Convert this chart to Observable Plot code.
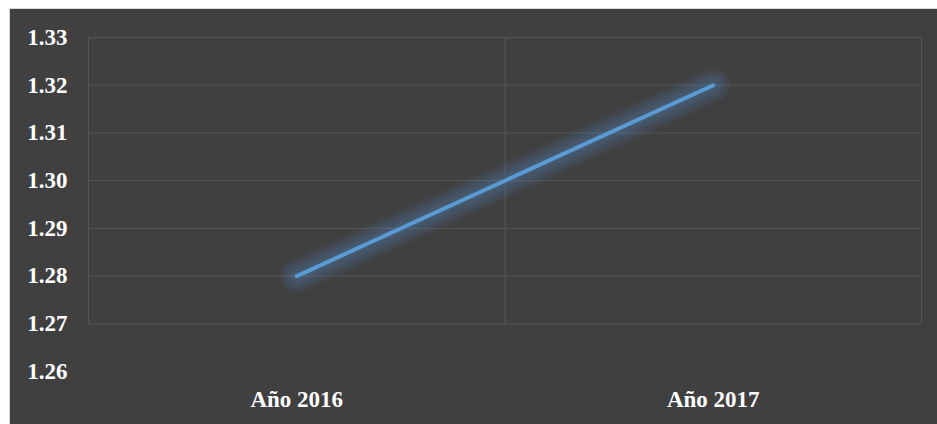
<!DOCTYPE html>
<html>
<head>
<meta charset="utf-8">
<script src="https://cdn.jsdelivr.net/npm/d3@7"></script>
<script src="https://cdn.jsdelivr.net/npm/@observablehq/plot@0.6"></script>
<style>
  html, body { margin: 0; padding: 0; background: #ffffff; }
  #frame { position: absolute; left: 9px; top: 8px; width: 928px; height: 416px; background: #404040; border-top: 1px solid #d9d9d9; border-left: 1px solid #d9d9d9; box-sizing: border-box; }
  #chart { position: absolute; left: -1px; top: -1px; }
  #chart svg text { font-family: "Liberation Serif", "Times New Roman", serif !important; font-weight: bold; font-size: 23px; }
</style>
</head>
<body>
<div id="frame"><div id="chart"></div></div>
<script>
// Categories and series values
const categories = ["Año 2016", "Año 2017"];
const values = [1.28, 1.32];
// Y axis tick labels
const yTicks = [1.26, 1.27, 1.28, 1.29, 1.30, 1.31, 1.32, 1.33];
const gridTicks = [1.27, 1.28, 1.29, 1.30, 1.31, 1.32, 1.33];

// Each category sits at the centre of its slot: 0.5, 1.5, ...
const data = categories.map((c, i) => ({ pos: i + 0.5, label: c, value: values[i] }));
const slotEdges = d3.range(categories.length + 1);

// Stacked translucent strokes, widest first, build a soft glow around the line
const glowWidths = [34, 29, 24, 19, 14, 10];

const chart = Plot.plot({
  width: 928,
  height: 416,
  marginLeft: 79,
  marginRight: 16,
  marginTop: 29,
  marginBottom: 53,
  style: {
    background: "transparent",
    color: "#ffffff",
    fontFamily: "Liberation Serif, serif",
    fontWeight: "bold",
    fontSize: "23px"
  },
  x: { domain: [0, categories.length], axis: null },
  y: { domain: [1.26, 1.33], axis: null },
  marks: [
    Plot.ruleY(gridTicks, { stroke: "#555555", strokeWidth: 1 }),
    Plot.ruleX(slotEdges, { y1: 1.27, y2: 1.33, stroke: "#555555", strokeWidth: 1 }),
    Plot.axisY(yTicks, {
      tickSize: 0,
      tickPadding: 21,
      tickFormat: d => d.toFixed(2),
      fill: "#ffffff",
      label: null
    }),
    Plot.axisX(data.map(d => d.pos), {
      tickSize: 0,
      tickPadding: 19,
      tickFormat: (d, i) => categories[i],
      fill: "#ffffff",
      label: null
    }),
    ...glowWidths.map(w => Plot.line(data, {
      x: "pos", y: "value",
      stroke: "#5b9bd5", strokeWidth: w, strokeOpacity: 0.06,
      strokeLinecap: "round"
    })),
    Plot.line(data, {
      x: "pos", y: "value",
      stroke: "#5b9bd5", strokeWidth: 4, strokeLinecap: "round"
    })
  ]
});

document.getElementById("chart").appendChild(chart);
</script>
</body>
</html>
